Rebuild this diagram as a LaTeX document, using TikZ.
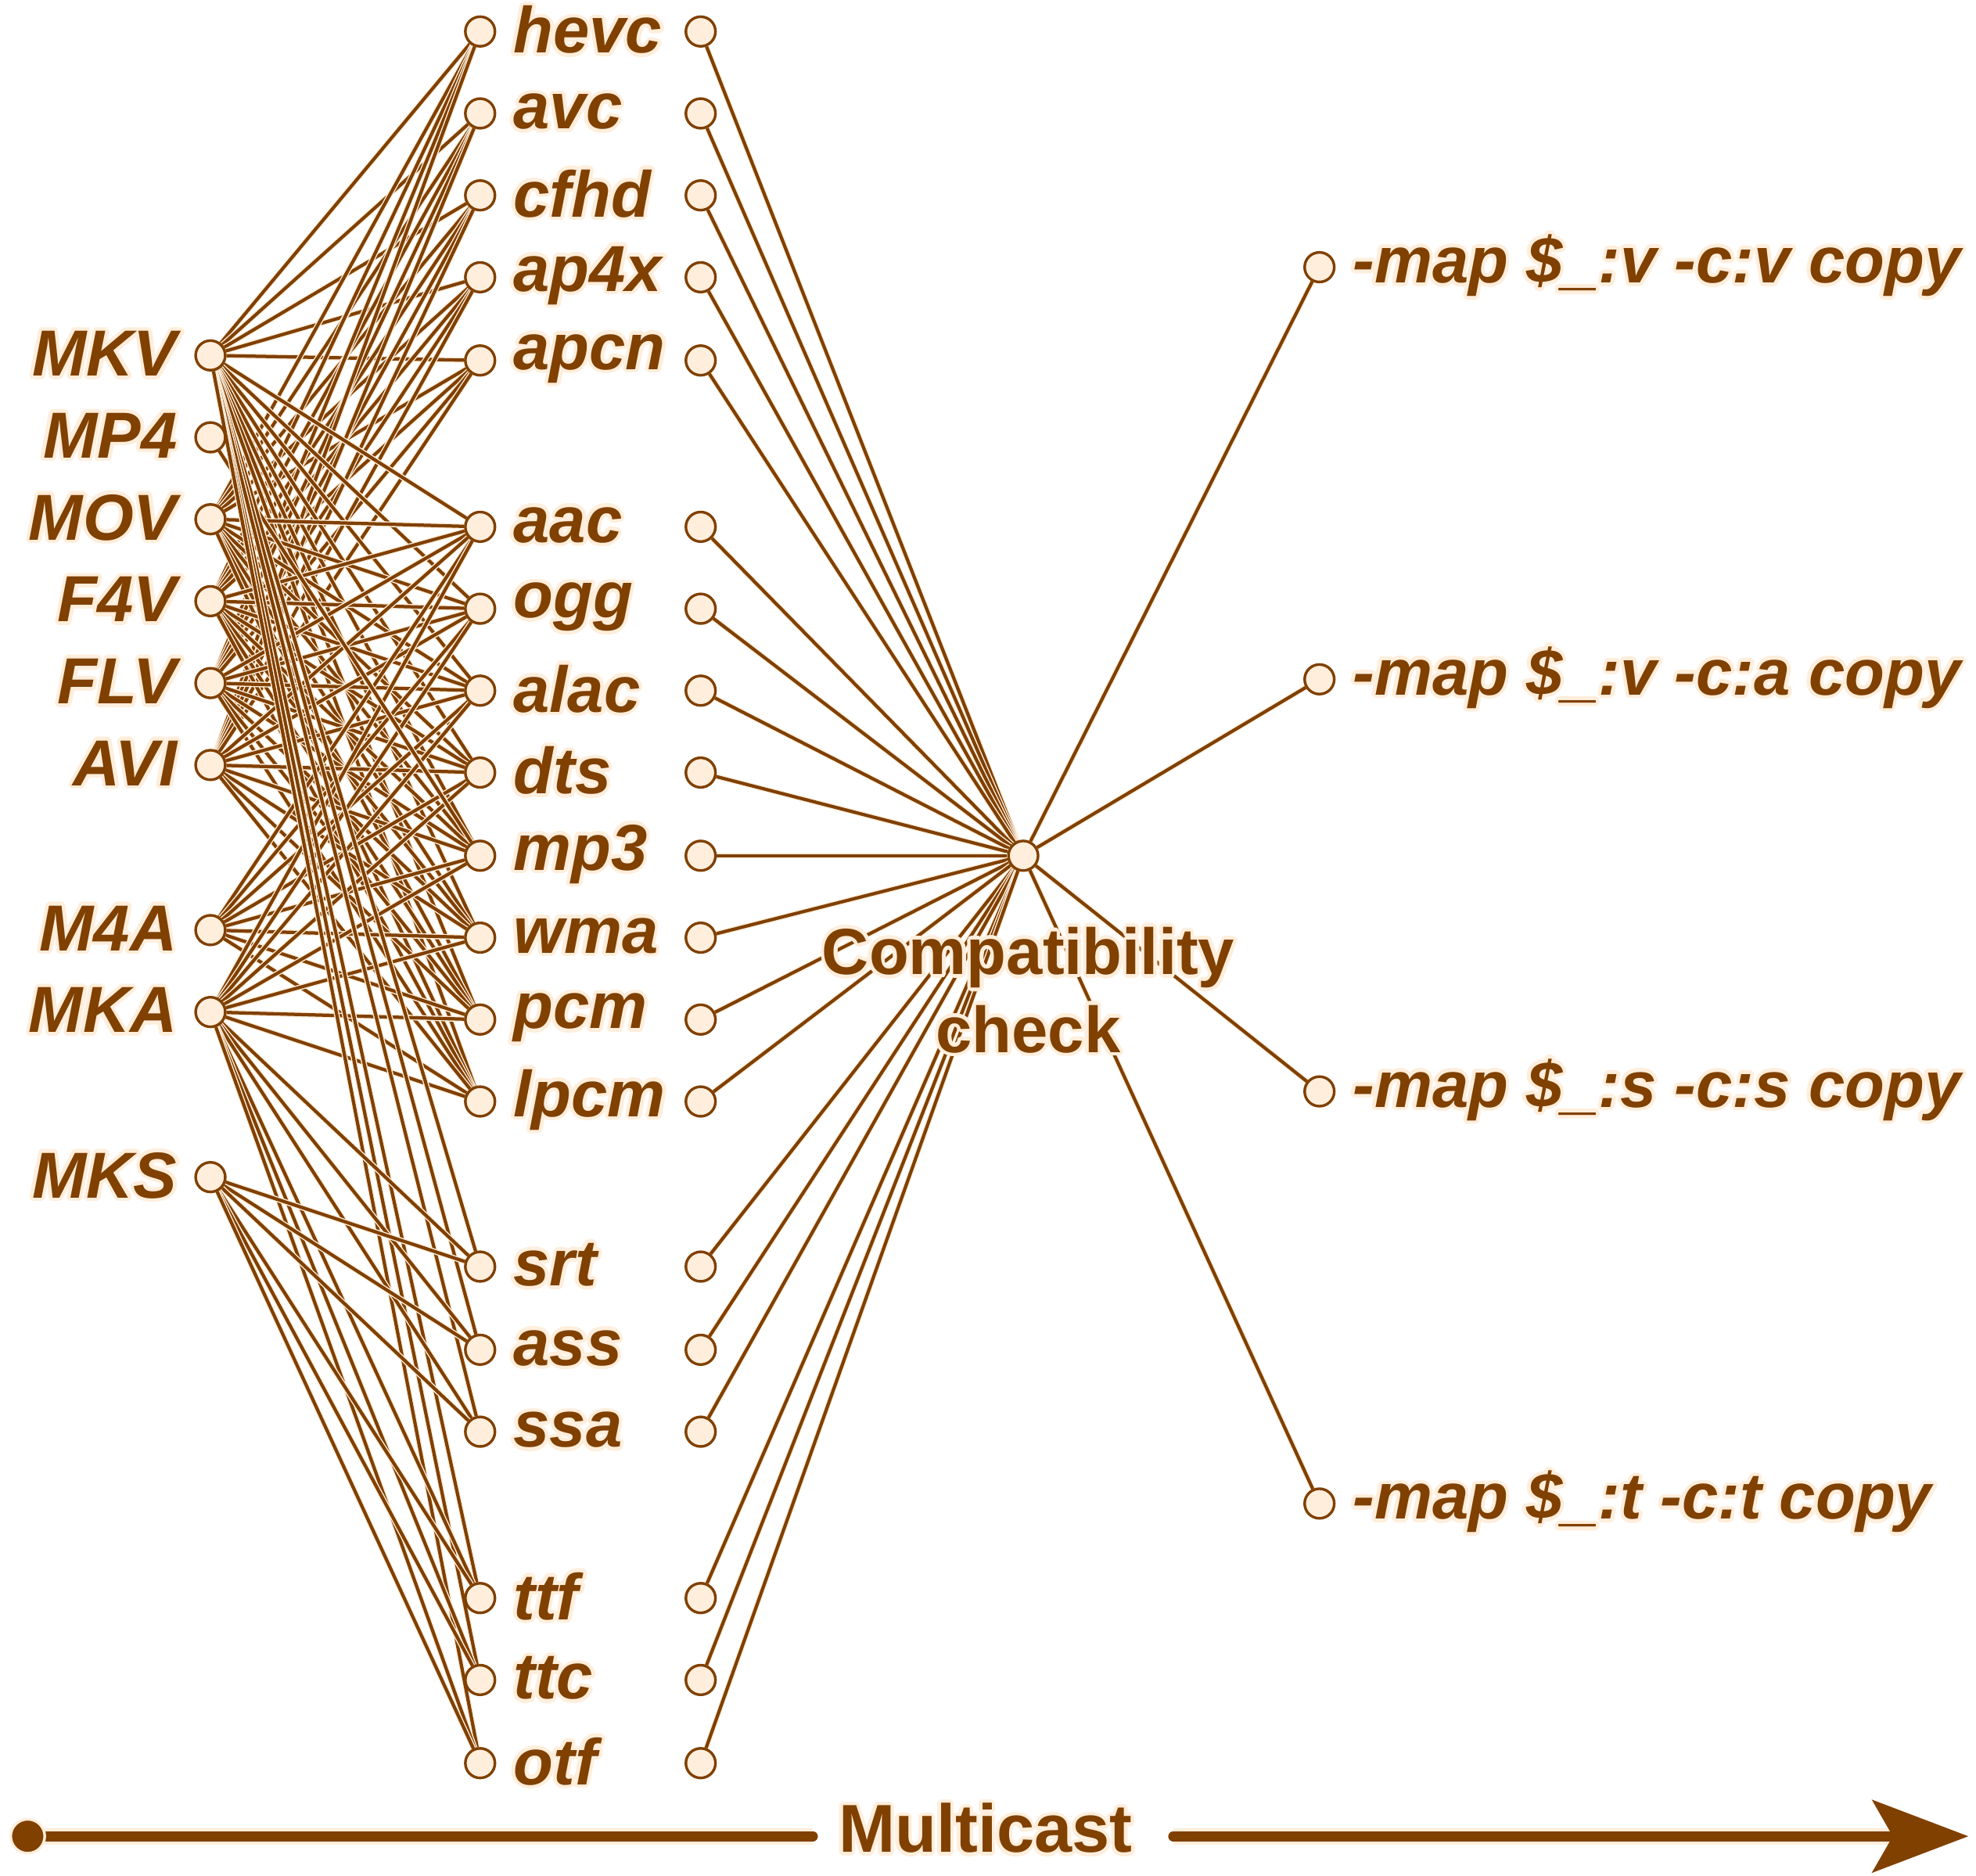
\documentclass[tikz,border=0pt]{standalone}
\usepackage{fontspec}
\setmainfont{Liberation Sans}
\usepackage{contour}
\contourlength{0.8pt}
\contournumber{20}
\usetikzlibrary{arrows.meta}
\usetikzlibrary{backgrounds}
\definecolor{mybrown}{RGB}{128,64,0}
\definecolor{mycream}{RGB}{255,238,220}
\newcommand{\halotext}[1]{\contour{mycream}{#1}}

\tikzset{
  port/.style={circle, draw=mybrown, fill=mycream, line width=0.6pt,
    minimum size=2.35mm, inner sep=0pt},
  lbl/.style={inner sep=0pt, text=mybrown,
    font=\fontsize{14.7}{17.6}\selectfont\bfseries\itshape},
  title/.style={inner sep=0pt, text=mybrown,
    font=\fontsize{14.7}{17.6}\selectfont\bfseries},
  wire/.style={draw=mybrown, line width=0.75pt,
    preaction={draw=mycream, line width=1.25pt}},
  bar/.style={draw=mybrown, line width=0.8mm, line cap=round,
    preaction={draw=mycream, line width=1.3mm}},
}

\begin{document}
\begin{tikzpicture}[x=0.1mm, y=-0.1mm, label distance=1.3mm]
\useasboundingbox (0,0) rectangle (1568,1488);

% containers
\foreach \n/\t/\y in {mkv/MKV/282, mp4/MP4/347, mov/MOV/412, f4v/F4V/477,
    flv/FLV/542, avi/AVI/607, m4a/M4A/738, mka/MKA/803, mks/MKS/934}
  \node[port, label={[lbl]left:\halotext{\t}}] (\n) at (167,\y) {};

% codecs, in and out
\foreach \n/\y in {hevc/25, avc/90, cfhd/155, ap4x/220, apcn/286,
    aac/418, ogg/483, alac/548, dts/613, mp3/679, wma/744, pcm/809, lpcm/874,
    srt/1005, ass/1071, ssa/1136, ttf/1268, ttc/1333, otf/1399} {
  \node[port, label={[lbl]right:\halotext{\n}}] (\n) at (381,\y) {};
  \node[port] (\n-out) at (556,\y) {};
}

% check
\node[port] (hub) at (812,679) {};
\node[title, align=center] (check) at (816,787)
  {\halotext{Compatibility}\\\halotext{check}};

% stream maps
\foreach \n/\t/\y in {mapv/-map \$\_:v -c:v copy/212, mapa/-map \$\_:v -c:a copy/539,
    maps/-map \$\_:s -c:s copy/866, mapt/-map \$\_:t -c:t copy/1193}
  \node[port, label={[lbl]right:\halotext{\t}}] (\n) at (1047,\y) {};

% multicast arrow
\node[circle, fill=mybrown, draw=mycream, line width=0.6pt,
  minimum size=2.7mm, inner sep=0pt] (start) at (22,1457) {};
\node[title, font=\fontsize{15.3}{18}\selectfont\bfseries] (multi) at (782,1452)
  {\halotext{Multicast}};
\coordinate (barend) at (645,1457);
\coordinate (arrowbeg) at (931,1457);
\coordinate (tip) at (1562,1457);

\begin{pgfonlayer}{background}
\draw[bar] (start.center) -- (barend);
\draw[bar, -{Stealth[length=7.6mm, width=5.7mm, inset=1.6mm]}] (arrowbeg) -- (tip);
% video
\foreach \c in {mkv,mov,f4v,flv,avi}
  \foreach \k in {hevc,avc,cfhd,ap4x,apcn}
    \draw[wire] (\c) -- (\k);
% audio
\foreach \c in {mkv,mov,f4v,flv,avi,m4a,mka}
  \foreach \k in {aac,ogg,alac,dts,mp3,wma,pcm,lpcm}
    \draw[wire] (\c) -- (\k);
\draw[wire] (mp4) -- (mp3);
% subtitles and fonts
\foreach \c in {mkv,mka,mks}
  \foreach \k in {srt,ass,ssa,ttf,ttc,otf}
    \draw[wire] (\c) -- (\k);
% to the check
\foreach \k in {hevc,avc,cfhd,ap4x,apcn,aac,ogg,alac,dts,mp3,wma,pcm,lpcm,
    srt,ass,ssa,ttf,ttc,otf}
  \draw[wire] (\k-out) -- (hub);
\foreach \m in {mapv,mapa,maps,mapt}
  \draw[wire] (hub) -- (\m);
\end{pgfonlayer}
\end{tikzpicture}
\end{document}
